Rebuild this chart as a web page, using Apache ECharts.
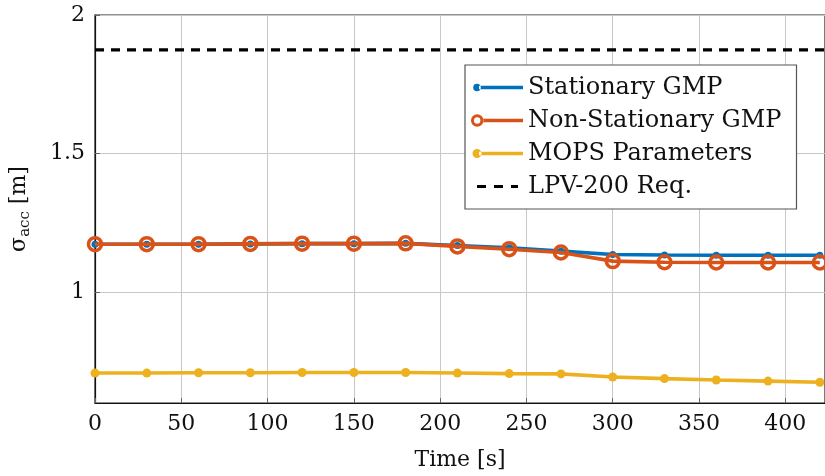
<!DOCTYPE html>
<html><head><meta charset="utf-8">
<script src="https://cdn.jsdelivr.net/npm/echarts@6/dist/echarts.min.js"></script>
<style>html,body{margin:0;padding:0;background:#fff}#c{width:825px;height:476px}</style>
</head><body><div id="c"></div>
<script>
const times = [0,30,60,90,120,150,180,210,240,270,300,330,360,390,420];
const stationary = [1.173,1.173,1.173,1.174,1.175,1.175,1.176,1.168,1.160,1.148,1.136,1.134,1.133,1.133,1.133];
const nonStationary = [1.173,1.173,1.173,1.174,1.175,1.175,1.176,1.165,1.155,1.143,1.112,1.108,1.107,1.107,1.107];
const mops = [0.708,0.708,0.709,0.709,0.710,0.710,0.710,0.708,0.706,0.705,0.694,0.688,0.683,0.679,0.675];
const lpvReq = 1.874;
const xRange = [0, 423];
const yRange = [0.6, 2];
const yTicks = [1, 1.5, 2];
const names = ['Stationary GMP','Non-Stationary GMP','MOPS Parameters','LPV-200 Req.'];

const font = 'DejaVu Serif';
const pair = (xs, ys) => xs.map((x,i)=>[x, ys[i]]);
const anchor = ' M0,0h0.01v0.01h-0.01z M52,14h-0.01v-0.01h0.01z';
const icons = [
  'path://M8,5.3H52V8.7H8z M2.2,7a3.8,3.8 0 1,0 7.6,0a3.8,3.8 0 1,0 -7.6,0z' + anchor,
  'path://M12,5.3H52V8.7H12z M0,7a6.2,6.2 0 1,0 12.4,0a6.2,6.2 0 1,0 -12.4,0z M3,7a3.2,3.2 0 1,1 6.4,0a3.2,3.2 0 1,1 -6.4,0z' + anchor,
  'path://M8,5.3H52V8.7H8z M1.5,7a4.5,4.5 0 1,0 9,0a4.5,4.5 0 1,0 -9,0z' + anchor,
  'path://M6,5.4H15V8.6H6z M23,5.4H32V8.6H23z M40,5.4H47V8.6H40z' + anchor
];
const colors = ['#0072BD','#D95319','#EDB120','#000000'];
const chart = echarts.init(document.getElementById('c'));
chart.setOption({
  animation:false,
  textStyle:{fontFamily:font},
  grid:{left:95,top:15,right:0,bottom:72,show:true,borderColor:'#222',borderWidth:1.2},
  xAxis:{type:'value',min:xRange[0],max:xRange[1],interval:50,
    axisLine:{show:true,lineStyle:{color:'#111',width:1.2}},
    axisTick:{show:true,inside:true,length:5,lineStyle:{color:'#666'}},
    axisLabel:{fontSize:22,color:'#111',margin:10,fontFamily:font,showMaxLabel:false},
    splitLine:{show:true,lineStyle:{color:'#c8c8c8',width:1}},
    name:'Time [s]',nameLocation:'middle',nameGap:46,nameTextStyle:{fontSize:22,color:'#111',fontFamily:font}},
  yAxis:{type:'value',min:yRange[0],max:yRange[1],
    axisLine:{show:true,lineStyle:{color:'#111',width:1.2}},
    axisTick:{show:true,inside:true,length:5,lineStyle:{color:'#666'},customValues:yTicks},
    axisLabel:{fontSize:22,color:'#111',margin:10,fontFamily:font,customValues:yTicks,
      formatter:v=>String(v)},
    splitLine:{show:true,lineStyle:{color:'#c8c8c8',width:1}},
    name:'{a|σ}{b|acc}{a| [m]}',nameLocation:'middle',nameGap:62,nameRotate:90,
    nameTextStyle:{rich:{a:{fontSize:22,color:'#111',fontFamily:font,lineHeight:28},
      b:{fontSize:15,color:'#111',fontFamily:font,verticalAlign:'bottom',lineHeight:20,padding:[8,0,0,0]}}}},
  legend:{orient:'vertical',left:465,top:65,padding:[10,15,10,6],itemGap:8,
    backgroundColor:'#fff',borderColor:'#555',borderWidth:1.2,borderRadius:0,
    itemWidth:52,itemHeight:14,
    textStyle:{fontSize:24,color:'#111',fontFamily:font,lineHeight:25},
    data:names.map((n,i)=>({name:n,icon:icons[i],itemStyle:{color:colors[i],borderWidth:0}}))},
  series:[
    {name:names[0],type:'line',data:pair(times,stationary),
      lineStyle:{width:3.6,color:colors[0]},symbol:'circle',symbolSize:7,itemStyle:{color:colors[0]},z:3},
    {name:names[1],type:'line',data:pair(times,nonStationary),
      lineStyle:{width:3.6,color:colors[1]},symbol:'circle',symbolSize:13,
      itemStyle:{color:'rgba(0,0,0,0)',borderWidth:3.5,borderColor:colors[1]},z:4},
    {name:names[2],type:'line',data:pair(times,mops),
      lineStyle:{width:3.6,color:colors[2]},symbol:'circle',symbolSize:9,itemStyle:{color:colors[2]},z:3},
    {name:names[3],type:'line',data:[[xRange[0],lpvReq],[xRange[1],lpvReq]],
      lineStyle:{width:3.4,type:[9,7],color:colors[3]},itemStyle:{color:colors[3]},symbol:'none',z:2}
  ]
});
</script></body></html>
